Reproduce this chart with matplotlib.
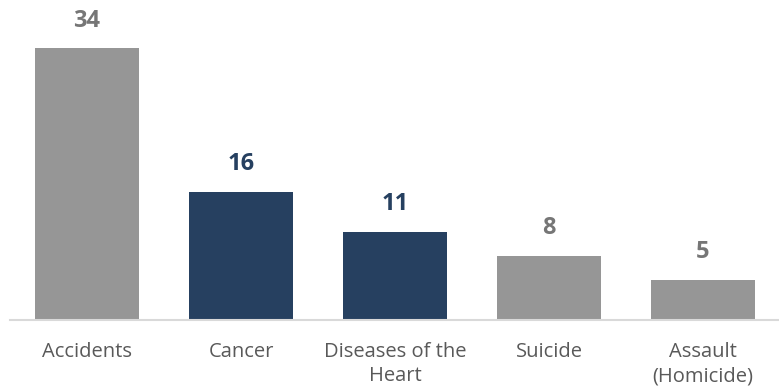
import matplotlib.pyplot as plt

# data
categories = ['Accidents', 'Cancer', 'Diseases of the\nHeart', 'Suicide', 'Assault\n(Homicide)']
values = [34, 16, 11, 8, 5]
highlight = [False, True, True, False, False]

gray = '#969696'
navy = '#264060'

plt.rcParams['font.family'] = ['Open Sans', 'DejaVu Sans']

fig = plt.figure(figsize=(7.79, 3.92), dpi=100)
ax = fig.add_axes([10 / 779, 72.5 / 392, 770 / 779, 319.5 / 392])

x = range(len(values))
colors = [navy if h else gray for h in highlight]
bars = ax.bar(x, values, width=0.67, color=colors)

for xi, v, h in zip(x, values, highlight):
    ax.annotate(str(v), (xi, v), xytext=(0, 11), textcoords='offset points',
                ha='center', va='bottom', fontsize=17, fontweight='bold',
                color=navy if h else '#767676')

ax.set_xlim(-0.5, 4.5)
ax.set_ylim(0, 40)
ax.set_xticks(list(x))
ax.set_xticklabels(categories, fontsize=14.5, color='#595959', linespacing=1.3)
ax.tick_params(axis='x', length=0, pad=16)
ax.set_yticks([])
for s in ['top', 'right', 'left']:
    ax.spines[s].set_visible(False)
ax.spines['bottom'].set_color('#d9d9d9')
ax.spines['bottom'].set_linewidth(1.5)

fig.savefig('out.png', dpi=100)
